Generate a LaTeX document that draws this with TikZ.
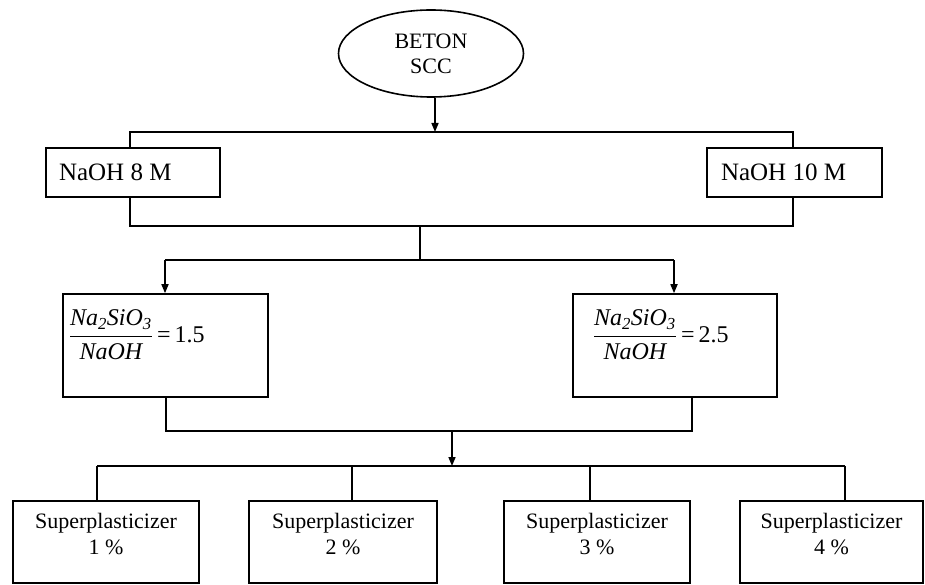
\documentclass[tikz,border=0pt]{standalone}
\usepackage{fontspec}
\setmainfont{Liberation Serif}
\usetikzlibrary{arrows.meta,shapes.geometric}
\begin{document}
\begin{tikzpicture}[x=1pt,y=-1pt,
  line width=1.6pt,
  font=\fontsize{22}{25}\selectfont,
  box/.style={draw,rectangle,inner sep=0pt},
  arr/.style={-{Triangle[length=9pt,width=7pt]}},
  lbl/.style={inner sep=0pt,align=center},
  big/.style={font=\fontsize{25}{28}\selectfont},
  frac/.style={font=\fontsize{24}{27}\selectfont}]
\useasboundingbox (0,0) rectangle (925,585);
% nodes
\node[draw,ellipse,minimum width=185pt,minimum height=87pt,inner sep=0pt,align=center] (ell) at (431,53.5) {BETON\\[0pt]SCC};
\node[box,minimum width=174pt,minimum height=49pt] (n8) at (133,172.5) {};
\node[lbl,big,anchor=west] (tn8) at ([xshift=13pt]n8.west) {NaOH 8 M};
\node[box,minimum width=175pt,minimum height=49pt] (n10) at (794.5,172.5) {};
\node[lbl,big,anchor=west] (tn10) at ([xshift=14pt]n10.west) {NaOH 10 M};
\node[box,minimum width=205pt,minimum height=103pt] (r1) at (165.5,345.5) {};
\node[lbl,frac,anchor=west] (f1) at (68,335) {$\displaystyle\frac{\mathit{Na_2SiO_3}}{\mathit{NaOH}}$\,=\,1.5};
\node[box,minimum width=204pt,minimum height=103pt] (r2) at (675,345.5) {};
\node[lbl,frac,anchor=west] (f2) at (592,335) {$\displaystyle\frac{\mathit{Na_2SiO_3}}{\mathit{NaOH}}$\,=\,2.5};
\node[box,minimum width=186pt,minimum height=82pt] (s1) at (106,542) {};
\node[box,minimum width=188pt,minimum height=82pt] (s2) at (343,542) {};
\node[box,minimum width=186pt,minimum height=82pt] (s3) at (597,542) {};
\node[box,minimum width=183pt,minimum height=82pt] (s4) at (831.5,542) {};
\node[lbl,anchor=north] (t1) at ([yshift=-12pt]s1.north) {Superplasticizer\\[1pt]1 \%};
\node[lbl,anchor=north] (t2) at ([yshift=-12pt]s2.north) {Superplasticizer\\[1pt]2 \%};
\node[lbl,anchor=north] (t3) at ([yshift=-12pt]s3.north) {Superplasticizer\\[1pt]3 \%};
\node[lbl,anchor=north] (t4) at ([yshift=-12pt]s4.north) {Superplasticizer\\[1pt]4 \%};
% junction coordinates
\coordinate (a1) at (435,132);
\coordinate (L1) at (130,132);
\coordinate (R1) at (793,132);
\coordinate (L2) at (130,226);
\coordinate (R2) at (793,226);
\coordinate (m2) at (420,226);
\coordinate (m3) at (420,260);
\coordinate (L3) at (165,260);
\coordinate (R3) at (674,260);
\coordinate (L4) at (166,431);
\coordinate (R4) at (692,431);
\coordinate (m4) at (452,431);
\coordinate (m5) at (452,466);
\coordinate (L5) at (97,466);
\coordinate (R5) at (845,466);
\coordinate (b2) at (352,466);
\coordinate (b3) at (590,466);
% connectors
\draw[arr] (a1 |- ell.south) -- (a1);
\draw (n8.north -| L1) -- (L1) -- (R1) -- (n10.north -| R1);
\draw (n8.south -| L2) -- (L2) -- (R2) -- (n10.south -| R2);
\draw (m2) -- (m3);
\draw[arr] (L3) -- (r1.north -| L3);
\draw (L3) -- (R3);
\draw[arr] (R3) -- (r2.north -| R3);
\draw (r1.south -| L4) -- (L4) -- (R4) -- (r2.south -| R4);
\draw[arr] (m4) -- (m5);
\draw (L5) -- (R5);
\draw (L5) -- (s1.north -| L5);
\draw (b2) -- (s2.north -| b2);
\draw (b3) -- (s3.north -| b3);
\draw (R5) -- (s4.north -| R5);
\end{tikzpicture}
\end{document}
